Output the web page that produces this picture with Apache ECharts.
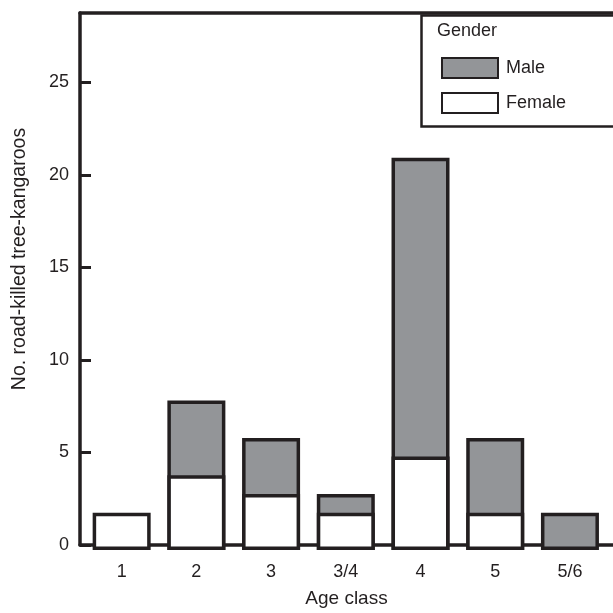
<!DOCTYPE html>
<html>
<head>
<meta charset="utf-8">
<script src="https://cdn.jsdelivr.net/npm/echarts@6/dist/echarts.min.js"></script>
<style>
html,body{margin:0;padding:0;background:#fff;}
#chart{width:613px;height:613px;}
</style>
</head>
<body>
<div id="chart"></div>
<script>
const categories = ['1', '2', '3', '3/4', '4', '5', '5/6'];
const female = [2, 4, 3, 2, 5, 2, 0];
const male = [0, 4, 3, 1, 16, 4, 2];
const yMin = 0, yMax = 28.75, yInterval = 5;

const INK = '#231f20';
const GREY = '#939598';
const FONT = 'Liberation Sans, Arial, Helvetica, sans-serif';

const chart = echarts.init(document.getElementById('chart'));
const toData = arr => arr.map(v => (v === 0 ? '-' : v));
// Male segment sits on top of female: its bar spans from 0 to the stacked total,
// and the female bar is drawn over its lower part.
const maleTop = male.map((v, i) => (v === 0 ? 0 : v + female[i]));

chart.setOption({
  animation: false,
  backgroundColor: '#fff',
  textStyle: { fontFamily: FONT },
  grid: [
    { left: 84.3, right: 5.7, top: 13, bottom: 63 },
    { left: 80, right: -10, top: 13, bottom: 63 }
  ],
  xAxis: [
    {
      type: 'category', gridIndex: 0, data: categories,
      axisLine: { show: false }, axisTick: { show: false },
      axisLabel: { fontSize: 18, color: INK, margin: 13, fontFamily: FONT }
    },
    {
      type: 'value', gridIndex: 1, position: 'bottom', min: 0, max: 1,
      axisLine: { show: true, lineStyle: { color: INK, width: 3.5 } },
      axisTick: { show: false }, axisLabel: { show: false }, splitLine: { show: false },
      name: 'Age class', nameLocation: 'middle', nameGap: 44,
      nameTextStyle: { fontSize: 19, color: INK, fontFamily: FONT }
    },
    {
      type: 'value', gridIndex: 1, position: 'top', min: 0, max: 1,
      axisLine: { show: true, lineStyle: { color: INK, width: 3.5 } },
      axisTick: { show: false }, axisLabel: { show: false }, splitLine: { show: false }
    }
  ],
  yAxis: [
    { type: 'value', gridIndex: 0, min: yMin, max: yMax, show: false },
    {
      type: 'value', gridIndex: 1, min: yMin, max: yMax, interval: yInterval,
      axisLine: { show: true, lineStyle: { color: INK, width: 3.5 } },
      axisTick: { show: true, inside: true, length: 11, lineStyle: { color: INK, width: 3 } },
      axisLabel: { fontSize: 18, color: INK, margin: 11, showMaxLabel: false, fontFamily: FONT,
        formatter: v => (v % 5 === 0 ? String(v) : '') },
      splitLine: { show: false },
      name: 'No. road-killed tree-kangaroos', nameLocation: 'middle', nameGap: 50,
      nameTextStyle: { fontSize: 19.5, color: INK, fontFamily: FONT, padding: [0, 0, 0, 40] }
    }
  ],
  legend: {
    data: ['Male', 'Female'], orient: 'vertical', left: 441, top: 57, padding: 0,
    itemWidth: 56, itemHeight: 20, itemGap: 13, icon: 'rect',
    textStyle: { fontSize: 18, color: INK, fontFamily: FONT, padding: [0, 0, 0, 3] },
    selectedMode: false
  },
  graphic: [
    { type: 'rect', left: 419, top: 13, shape: { width: 220, height: 111 },
      style: { fill: 'none', stroke: INK, lineWidth: 2.5 }, z: 10 },
    { type: 'text', left: 437, top: 22,
      style: { text: 'Gender', fontSize: 18, fill: INK, fontFamily: FONT }, z: 10 }
  ],
  series: [
    {
      name: 'Male', type: 'bar', xAxisIndex: 0, yAxisIndex: 0,
      data: toData(maleTop), barWidth: 58, barGap: '-100%',
      itemStyle: { color: GREY, borderColor: INK, borderWidth: 3.5 }
    },
    {
      name: 'Female', type: 'bar', xAxisIndex: 0, yAxisIndex: 0,
      data: toData(female), barWidth: 58, barGap: '-100%',
      itemStyle: { color: '#ffffff', borderColor: INK, borderWidth: 3.5 }
    }
  ]
});
</script>
</body>
</html>
